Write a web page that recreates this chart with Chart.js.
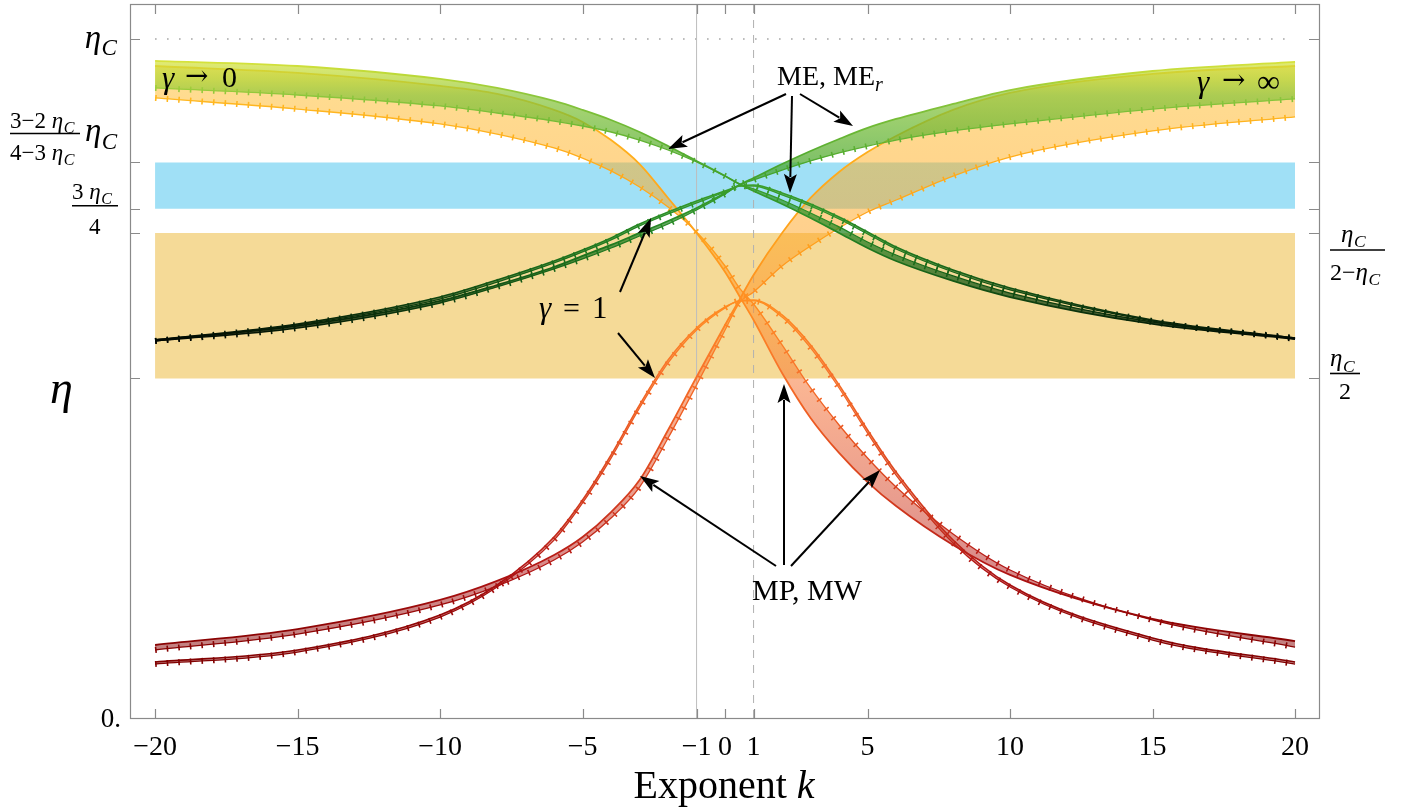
<!DOCTYPE html>
<html><head><meta charset="utf-8">
<script src="https://cdn.jsdelivr.net/npm/chart.js@4.4.1/dist/chart.umd.min.js"></script>
<style>html,body{margin:0;padding:0;background:#fff}canvas{display:block}</style>
</head><body>
<canvas id="c" width="1405" height="812" style="width:1405px;height:812px"></canvas>
<script>
// ---------------- data (η values, ηC = 0.6) ----------------
const ETA_C = 0.6;
const K = [-20,-15,-10,-8,-6,-5,-4,-3,-2,-1,0,0.5,1,2,3,4,5,6,8,10,15,20];
// ME (solid) / MEr (ticked) — green family
const ME_g0   = [0.5806,0.5761,0.5647,0.5567,0.5452,0.5373,0.5284,0.5178,0.5054,0.4922,0.4789,0.4719,0.4657,0.4542,0.4418,0.4286,0.4153,0.4038,0.3862,0.3720,0.3482,0.3349];
const MEr_g0  = [0.5567,0.5505,0.5408,0.5346,0.5275,0.5231,0.5178,0.5107,0.5019,0.4913,0.4789,0.4719,0.4675,0.4577,0.4462,0.4339,0.4206,0.4091,0.3906,0.3755,0.3499,0.3358];
const ME_gInf = [0.3340,0.3464,0.3685,0.3826,0.3985,0.4083,0.4180,0.4286,0.4392,0.4507,0.4639,0.4710,0.4772,0.4895,0.5010,0.5116,0.5214,0.5293,0.5426,0.5549,0.5717,0.5797];
const MEr_gInf= [0.3331,0.3446,0.3667,0.3809,0.3968,0.4056,0.4153,0.4259,0.4365,0.4489,0.4630,0.4710,0.4754,0.4842,0.4922,0.4993,0.5054,0.5107,0.5187,0.5249,0.5381,0.5470];
const ME_g1   = [0.3340,0.3482,0.3720,0.3870,0.4038,0.4135,0.4242,0.4365,0.4471,0.4569,0.4657,0.4701,0.4710,0.4639,0.4542,0.4427,0.4295,0.4162,0.3959,0.3800,0.3517,0.3358];
const MEr_g1  = [0.3331,0.3473,0.3702,0.3852,0.4021,0.4118,0.4224,0.4348,0.4454,0.4551,0.4648,0.4701,0.4701,0.4622,0.4524,0.4409,0.4277,0.4144,0.3941,0.3782,0.3508,0.3349];
// MP (solid) / MW (ticked) — red/orange family
const MP_g0   = [0.5761,0.5700,0.5585,0.5514,0.5373,0.5267,0.5107,0.4895,0.4595,0.4286,0.3941,0.3729,0.3517,0.3049,0.2651,0.2342,0.2085,0.1873,0.1529,0.1264,0.0875,0.0680];
const MW_g0   = [0.5479,0.5381,0.5249,0.5160,0.5037,0.4948,0.4834,0.4692,0.4515,0.4295,0.3994,0.3800,0.3658,0.3296,0.2916,0.2589,0.2297,0.2041,0.1626,0.1308,0.0866,0.0627];
const MP_gInf = [0.0645,0.0786,0.1043,0.1211,0.1440,0.1599,0.1820,0.2103,0.2545,0.3013,0.3473,0.3694,0.3915,0.4286,0.4595,0.4825,0.5001,0.5143,0.5373,0.5523,0.5691,0.5761];
const MW_gInf = [0.0601,0.0742,0.0999,0.1166,0.1396,0.1555,0.1767,0.2041,0.2474,0.2943,0.3429,0.3667,0.3764,0.3994,0.4171,0.4330,0.4471,0.4577,0.4789,0.4957,0.5187,0.5311];
const MP_g1   = [0.0495,0.0601,0.0910,0.1175,0.1599,0.1926,0.2324,0.2766,0.3163,0.3446,0.3632,0.3685,0.3694,0.3561,0.3296,0.2943,0.2545,0.2174,0.1573,0.1175,0.0707,0.0495];
const MW_g1   = [0.0477,0.0583,0.0892,0.1157,0.1572,0.1900,0.2297,0.2740,0.3137,0.3428,0.3623,0.3685,0.3685,0.3543,0.3270,0.2916,0.2518,0.2147,0.1546,0.1157,0.0689,0.0477];
// reference bands / lines
const BAND_K = [-20, 20];
const BAND_MP = [ETA_C/2, ETA_C/(2-ETA_C)];
const BAND_ME = [3*ETA_C/4, (3-2*ETA_C)/(4-3*ETA_C)*ETA_C];
const REF_K = [-1, 1];
const X_TICKS = [-20,-15,-10,-5,-1,0,1,5,10,15,20];
const Y_TICKS = [ETA_C, BAND_ME[1], BAND_ME[0], BAND_MP[1], BAND_MP[0]];
const X_MIN = -20.88, X_MAX = 20.84, Y_MAX = 0.6309;

// ---------------- styles ----------------
const GREEN = [[0.33,'#000000'],[0.345,'#061e06'],[0.37,'#0f4410'],[0.40,'#1a6a1a'],[0.43,'#248424'],[0.46,'#349a2a'],[0.49,'#4ca82e'],[0.52,'#6cb834'],[0.55,'#8cc63c'],[0.565,'#b4d636'],[0.58,'#d6e23c'],[0.6,'#dfe640']];
const RED = [[0.04,'#7d0000'],[0.08,'#8f0404'],[0.13,'#b01414'],[0.19,'#d23a1e'],[0.26,'#ec5a22'],[0.31,'#f8742a'],[0.36,'#ff8a22'],[0.42,'#ffa01c'],[0.50,'#ffae1c'],[0.58,'#ffbe24'],[0.6,'#ffc428']];
GREEN.id='g'; RED.id='r';
const FONT = '"Liberation Serif", "DejaVu Serif", serif';

function hexA(h,a){const n=parseInt(h.slice(1),16);return `rgba(${n>>16},${(n>>8)&255},${n&255},${a})`;}
const cache={};
function grad(chart,stops,alpha){
  const area=chart.chartArea; if(!area) return 'rgba(0,0,0,0)';
  const ys=chart.scales.y; const key=stops.id+alpha+'_'+area.top+'_'+area.bottom;
  if(cache[key]) return cache[key];
  const y0=ys.getPixelForValue(ys.min), y1=ys.getPixelForValue(ys.max);
  const g=chart.ctx.createLinearGradient(0,y0,0,y1);
  for(const [v,c] of stops){g.addColorStop(Math.min(1,Math.max(0,(v-ys.min)/(ys.max-ys.min))),hexA(c,alpha));}
  cache[key]=g; return g;
}

const datasets=[];
function add(ds){datasets.push(Object.assign({pointRadius:0,pointHoverRadius:0,fill:false,tension:0},ds));return datasets.length-1;}
const pts=v=>K.map((k,i)=>({x:k,y:v[i]}));
function family(s,d,stops,fa,ord,wS){
  const iS=add({data:pts(s),borderColor:c=>grad(c.chart,stops,1),backgroundColor:c=>grad(c.chart,stops,fa),borderWidth:wS,order:ord,cubicInterpolationMode:'monotone'});
  const iD=add({data:pts(d),borderColor:c=>grad(c.chart,stops,1),borderWidth:1.3,order:ord-1,cubicInterpolationMode:'monotone'});
  datasets[iS].fill={target:iD};
  add({data:pts(d),borderColor:c=>grad(c.chart,stops,1),borderWidth:6,borderDash:[1.6,10],borderCapStyle:'butt',order:ord-2,cubicInterpolationMode:'monotone'});
}
// bands
const b1=add({data:BAND_K.map(k=>({x:k,y:BAND_MP[0]})),borderColor:'rgba(0,0,0,0)',borderWidth:0,order:100});
add({data:BAND_K.map(k=>({x:k,y:BAND_MP[1]})),borderColor:'rgba(0,0,0,0)',borderWidth:0,order:100,fill:{target:b1},backgroundColor:'#F5DA97'});
const b2=add({data:BAND_K.map(k=>({x:k,y:BAND_ME[0]})),borderColor:'rgba(0,0,0,0)',borderWidth:0,order:99});
add({data:BAND_K.map(k=>({x:k,y:BAND_ME[1]})),borderColor:'rgba(0,0,0,0)',borderWidth:0,order:99,fill:{target:b2},backgroundColor:'#A0E0F6'});
add({data:BAND_K.map(k=>({x:k,y:ETA_C})),borderColor:'#a0a0a0',borderWidth:1.4,borderDash:[1.5,10.5],order:98});
add({data:[{x:REF_K[0],y:0},{x:REF_K[0],y:Y_MAX}],borderColor:'#bdbdbd',borderWidth:1,order:97});
add({data:[{x:REF_K[1],y:0},{x:REF_K[1],y:Y_MAX}],borderColor:'#b0b0b0',borderWidth:1,borderDash:[8,7],order:97});
// curves
family(MP_g1,MW_g1,RED,0.45,80,1.6);
family(MP_gInf,MW_gInf,RED,0.5,76,1.8);
family(MP_g0,MW_g0,RED,0.5,72,1.8);
family(ME_g1,MEr_g1,GREEN,0.6,40,1.6);
family(ME_gInf,MEr_gInf,GREEN,0.72,36,1.8);
family(ME_g0,MEr_g0,GREEN,0.72,32,1.8);

// ---------------- decorations ----------------
function seg(ctx,s,x,y,size,italic,fam){ctx.font=(italic?'italic ':'')+size+'px '+(fam||FONT);ctx.fillText(s,x,y);return ctx.measureText(s).width;}
function wid(ctx,s,size,italic){ctx.font=(italic?'italic ':'')+size+'px '+FONT;return ctx.measureText(s).width;}
function etaC(ctx,x,y,size){const w=seg(ctx,'\u03B7',x,y,size,true);const w2=seg(ctx,'C',x+w+0.5,y+0.22*size,size*0.7,true);return w+0.5+w2;}
function etaCW(ctx,size){return wid(ctx,'\u03B7',size,true)+0.5+wid(ctx,'C',size*0.7,true);}
function arrow(ctx,x1,y1,x2,y2){
  const a=Math.atan2(y2-y1,x2-x1),L=19,W=6.5;
  const bx=x2-L*Math.cos(a),by=y2-L*Math.sin(a);
  ctx.beginPath();ctx.moveTo(x1,y1);ctx.lineTo(bx+3*Math.cos(a),by+3*Math.sin(a));ctx.stroke();
  ctx.beginPath();ctx.moveTo(x2,y2);
  ctx.lineTo(bx-W*Math.sin(a),by+W*Math.cos(a));
  ctx.lineTo(bx+4*Math.cos(a),by+4*Math.sin(a));
  ctx.lineTo(bx+W*Math.sin(a),by-W*Math.cos(a));ctx.closePath();ctx.fill();
}
const ARW='"DejaVu Serif", serif';
const decor={id:'decor',afterDraw(chart){
  const ctx=chart.ctx,a=chart.chartArea,xs=chart.scales.x,ys=chart.scales.y;
  ctx.save();
  ctx.strokeStyle='#8a8a8a';ctx.lineWidth=1.2;
  ctx.strokeRect(a.left+0.5,a.top+0.5,a.right-a.left,a.bottom-a.top);
  ctx.beginPath();
  for(const v of X_TICKS){const x=Math.round(xs.getPixelForValue(v))+0.5;ctx.moveTo(x,a.bottom);ctx.lineTo(x,a.bottom-9);ctx.moveTo(x,a.top);ctx.lineTo(x,a.top+10);}
  for(const v of Y_TICKS){const y=Math.round(ys.getPixelForValue(v))+0.5;ctx.moveTo(a.left,y);ctx.lineTo(a.left+10,y);ctx.moveTo(a.right,y);ctx.lineTo(a.right-10,y);}
  ctx.stroke();
  ctx.fillStyle='#000';ctx.strokeStyle='#000';ctx.textBaseline='alphabetic';ctx.textAlign='left';
  // left labels
  const yC=ys.getPixelForValue(Y_TICKS[0]);
  etaC(ctx,117-etaCW(ctx,33),yC+9,33);
  const yA=ys.getPixelForValue(Y_TICKS[1]);
  let x=10; x+=seg(ctx,'3\u22122 ',x,yA-34,23,false); etaC(ctx,x,yA-34,23);
  x=10; x+=seg(ctx,'4\u22123 ',x,yA-2,23,false); etaC(ctx,x,yA-2,23);
  ctx.lineWidth=1.6;ctx.beginPath();ctx.moveTo(10,yA-29);ctx.lineTo(80,yA-29);ctx.stroke();
  etaC(ctx,85,yA-21,33);
  const yB=ys.getPixelForValue(Y_TICKS[2]);
  x=72; x+=seg(ctx,'3 ',x,yB-10,23,false); etaC(ctx,x,yB-10,23);
  ctx.beginPath();ctx.moveTo(72,yB-3);ctx.lineTo(118,yB-3);ctx.stroke();
  seg(ctx,'4',89,yB+25,23,false);
  seg(ctx,'\u03B7',50,403,46,true);
  const y0=ys.getPixelForValue(0);
  ctx.textAlign='right';seg(ctx,'0.',121,y0+9,27,false);ctx.textAlign='left';
  // right labels
  const yR1=ys.getPixelForValue(Y_TICKS[3]);
  etaC(ctx,1341,yR1+9,25);
  ctx.beginPath();ctx.moveTo(1330,yR1+17);ctx.lineTo(1385,yR1+17);ctx.stroke();
  x=1330; x+=seg(ctx,'2\u2212',x,yR1+47,24,false); etaC(ctx,x,yR1+47,25);
  const yR2=ys.getPixelForValue(Y_TICKS[4]);
  etaC(ctx,1330,yR2-12,25);
  ctx.beginPath();ctx.moveTo(1330,yR2-5);ctx.lineTo(1360,yR2-5);ctx.stroke();
  seg(ctx,'2',1339,yR2+21,24,false);
  // x title
  const wt=wid(ctx,'Exponent ',40,false)+wid(ctx,'k',40,true);
  x=724-wt/2; x+=seg(ctx,'Exponent ',x,798,40,false); seg(ctx,'k',x,798,40,true);
  // annotations
  seg(ctx,'\u03B3',162,88,31,true); seg(ctx,'\u2192',185,85,28,false,ARW); seg(ctx,'0',222,87,30,false);
  seg(ctx,'\u03B3',1197,92,31,true); seg(ctx,'\u2192',1222,89,28,false,ARW); seg(ctx,'\u221E',1257,92,32,false);
  x=777; x+=seg(ctx,'ME, ME',x,85,28,false); seg(ctx,'r',x,91,20,true);
  seg(ctx,'\u03B3',539,318,31,true); seg(ctx,'=',563,318,30,false); seg(ctx,'1',592,318,31,false);
  seg(ctx,'MP, MW',752,600,30,false);
  ctx.lineWidth=2;
  arrow(ctx,786,94,668,149); arrow(ctx,800,94,853,126); arrow(ctx,792,96,790,193);
  arrow(ctx,620,292,651,218); arrow(ctx,618,333,655,378);
  arrow(ctx,776,566,640,476); arrow(ctx,784,565,784,384); arrow(ctx,791,566,880,470);
  ctx.restore();
}};

new Chart(document.getElementById('c'),{
  type:'line',
  data:{datasets},
  options:{
    responsive:false,animation:false,devicePixelRatio:1,
    layout:{padding:{left:130,right:86,top:4,bottom:0}},
    plugins:{legend:{display:false},tooltip:{enabled:false},filler:{propagate:false}},
    events:[],
    scales:{
      x:{type:'linear',min:X_MIN,max:X_MAX,
        grid:{display:false,drawTicks:false},border:{display:false},
        afterBuildTicks:s=>{s.ticks=X_TICKS.map(v=>({value:v}));},
        afterFit:s=>{s.height=94;},
        ticks:{autoSkip:false,maxRotation:0,padding:13,color:'#000',font:{family:'Liberation Serif',size:28},
          callback:v=>v<0?'\u2212'+Math.abs(v):String(v)}},
      y:{type:'linear',min:0,max:Y_MAX,display:false}
    }
  },
  plugins:[decor]
});
</script>
</body></html>
